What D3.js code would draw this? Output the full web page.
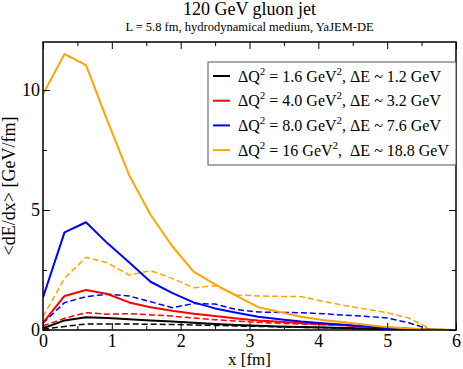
<!DOCTYPE html>
<html><head><meta charset="utf-8">
<script src="https://cdn.jsdelivr.net/npm/d3@7/dist/d3.min.js"></script>
<style>
body{margin:0;background:#fff}
text{font-family:"Liberation Serif","Times New Roman",serif;fill:#000}
</style>
</head><body><svg id="c" width="463" height="369"></svg>
<script>
// ---- data ----
const xs = [0,0.3125,0.625,0.9375,1.25,1.5625,1.875,2.1875,2.5,2.8125,3.125,3.4375,3.75,4.0625,4.375,4.6875,5.0,5.3125,5.625,5.9375];
const black_solid  = [0.07,0.40,0.53,0.50,0.45,0.40,0.35,0.30,0.25,0.21,0.18,0.15,0.12,0.10,0.08,0.06,0.04,0.02,0.01,0];
const black_dashed = [0.03,0.15,0.25,0.25,0.25,0.24,0.23,0.21,0.19,0.17,0.15,0.13,0.11,0.10,0.08,0.06,0.04,0.02,0.01,0];
const red_solid    = [0.30,1.42,1.67,1.50,1.15,0.95,0.80,0.68,0.58,0.48,0.40,0.34,0.29,0.24,0.20,0.15,0.10,0.05,0.01,0];
const red_dashed   = [0.17,0.49,0.72,0.66,0.68,0.63,0.58,0.50,0.43,0.37,0.32,0.28,0.25,0.22,0.19,0.15,0.10,0.06,0.01,0];
const blue_solid   = [1.36,4.07,4.49,3.61,2.82,2.01,1.55,1.15,0.90,0.72,0.55,0.45,0.35,0.28,0.22,0.15,0.08,0.04,0.01,0];
const blue_dashed  = [0.28,1.14,1.39,1.49,1.42,1.18,0.93,1.10,1.08,0.85,0.75,0.73,0.72,0.68,0.62,0.57,0.50,0.30,0.02,0];
const orange_solid = [9.83,11.50,11.04,8.70,6.46,4.80,3.50,2.43,1.90,1.42,0.95,0.75,0.55,0.42,0.32,0.22,0.12,0.06,0.02,0];
const orange_dashed= [0.55,2.15,3.03,2.80,2.29,2.47,2.15,1.76,1.85,1.46,1.42,1.40,1.39,1.20,1.02,0.87,0.72,0.50,0.05,0];

const xMajor = [0,1,2,3,4,5,6];
const xMinor = [0.5,1.5,2.5,3.5,4.5,5.5];
const yMajor = [0,5,10];
const yMinor = [2.5,7.5];

const legendQ2 = ["1.6","4.0","8.0","16"];
const legendDE = ["1.2","3.2","7.6","18.8"];
const colors = ["#000000","#ff0000","#0000ff","#ffa500"];

const title = "120 GeV gluon jet";
const subtitle = "L = 5.8 fm, hydrodynamical medium, YaJEM-DE";
const xLabel = "x [fm]";
const yLabel = "<dE/dx> [GeV/fm]";

// ---- chart ----
const FF = '"Liberation Serif","Times New Roman",serif';
const svg = d3.select("#c");
const L=43, R=456, T=42, B=330;
const x = d3.scaleLinear().domain([0,6]).range([L,R]);
const y = d3.scaleLinear().domain([0,12]).range([B,T]);

svg.append("defs").append("clipPath").attr("id","clp")
  .append("rect").attr("x",L).attr("y",T).attr("width",R-L).attr("height",B-T);

const line = d3.line().x((d,i)=>x(xs[i])).y(d=>y(d));
const series = [
  {v:black_dashed,c:colors[0],d:true},
  {v:red_dashed,c:colors[1],d:true},
  {v:blue_dashed,c:colors[2],d:true},
  {v:orange_dashed,c:colors[3],d:true},
  {v:black_solid,c:colors[0],d:false},
  {v:red_solid,c:colors[1],d:false},
  {v:blue_solid,c:colors[2],d:false},
  {v:orange_solid,c:colors[3],d:false}
];
const gl = svg.append("g").attr("clip-path","url(#clp)");
series.forEach(s=>{
  gl.append("path").attr("d",line(s.v)).attr("fill","none")
    .attr("stroke",s.c).attr("stroke-width",s.d?1.5:2)
    .attr("stroke-dasharray",s.d?"6,3":null).attr("stroke-linejoin","round");
});

// axes
function styleAxis(g){
  g.attr("font-family",null);
  g.select(".domain").remove();
  g.selectAll("line").attr("stroke","#000");
  g.selectAll("text").attr("font-size",18).style("font-family",FF).attr("fill","#000");
}
svg.append("g").attr("transform",`translate(0,${B})`)
  .call(d3.axisBottom(x).tickValues(xMajor).tickSize(-7).tickPadding(4).tickFormat(d3.format("d"))).call(styleAxis);
svg.append("g").attr("transform",`translate(0,${B})`)
  .call(d3.axisBottom(x).tickValues(xMinor).tickSize(-4).tickFormat("")).call(styleAxis);
svg.append("g").attr("transform",`translate(0,${T})`)
  .call(d3.axisTop(x).tickValues(xMajor).tickSize(-7).tickFormat("")).call(styleAxis);
svg.append("g").attr("transform",`translate(0,${T})`)
  .call(d3.axisTop(x).tickValues(xMinor).tickSize(-4).tickFormat("")).call(styleAxis);
svg.append("g").attr("transform",`translate(${L},0)`)
  .call(d3.axisLeft(y).tickValues(yMajor).tickSize(-7).tickPadding(3).tickFormat(d3.format("d"))).call(styleAxis);
svg.append("g").attr("transform",`translate(${L},0)`)
  .call(d3.axisLeft(y).tickValues(yMinor).tickSize(-4).tickFormat("")).call(styleAxis);
svg.append("g").attr("transform",`translate(${R},0)`)
  .call(d3.axisRight(y).tickValues(yMajor).tickSize(-7).tickFormat("")).call(styleAxis);
svg.append("g").attr("transform",`translate(${R},0)`)
  .call(d3.axisRight(y).tickValues(yMinor).tickSize(-4).tickFormat("")).call(styleAxis);

svg.append("rect").attr("x",L).attr("y",T).attr("width",R-L).attr("height",B-T)
  .attr("fill","none").attr("stroke","#000").attr("stroke-width",1.5);

// titles
svg.append("text").attr("x",(L+R)/2).attr("y",15).attr("text-anchor","middle").attr("font-size",18).style("font-family",FF).text(title);
svg.append("text").attr("x",(L+R)/2).attr("y",31).attr("text-anchor","middle").attr("font-size",12.5).style("font-family",FF).text(subtitle);
svg.append("text").attr("x",(L+R)/2).attr("y",365).attr("text-anchor","middle").attr("font-size",17).style("font-family",FF).text(xLabel);
svg.append("text").attr("transform",`translate(15,${(T+B)/2}) rotate(-90)`).attr("text-anchor","middle").attr("font-size",18).style("font-family",FF).text(yLabel);

// legend
const lg = svg.append("g");
lg.append("rect").attr("x",208).attr("y",62).attr("width",R-208).attr("height",103)
  .attr("fill","#fff").attr("stroke","#555").attr("stroke-width",1);
legendQ2.forEach((q,i)=>{
  const yy = 76 + i*24.7;
  lg.append("line").attr("x1",213).attr("x2",230).attr("y1",yy).attr("y2",yy)
    .attr("stroke",colors[i]).attr("stroke-width",2);
  const t = lg.append("text").attr("x",238).attr("y",yy+5.5).attr("font-size",16)
    .style("font-family",FF).style("white-space","pre");
  t.append("tspan").text("\u0394Q");
  t.append("tspan").attr("dy",-7).attr("font-size",11).text("2");
  t.append("tspan").attr("dy",7).text(` = ${q} GeV`);
  t.append("tspan").attr("dy",-7).attr("font-size",11).text("2");
  t.append("tspan").attr("dy",7).text((i===3?",  ":", ")+`\u0394E ~ ${legendDE[i]} GeV`);
});
</script>
</body></html>
